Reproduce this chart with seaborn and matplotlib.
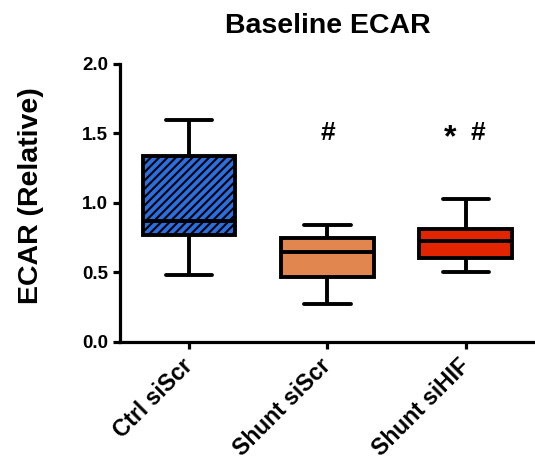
import matplotlib
matplotlib.use("Agg")
import matplotlib.pyplot as plt
import seaborn as sns
import pandas as pd

# ---- data ----
groups = ["Ctrl siScr", "Shunt siScr", "Shunt siHIF"]
# five-number summaries: whisker low, Q1, median, Q3, whisker high
ctrl_siscr = [0.48, 0.77, 0.87, 1.34, 1.60]
shunt_siscr = [0.27, 0.47, 0.645, 0.745, 0.84]
shunt_sihif = [0.50, 0.60, 0.725, 0.815, 1.03]
colors = ["#2a6ee0", "#e0864e", "#e32400"]
yticks = [0.0, 0.5, 1.0, 1.5, 2.0]

df = pd.DataFrame({
    "group": [groups[0]] * 5 + [groups[1]] * 5 + [groups[2]] * 5,
    "value": ctrl_siscr + shunt_siscr + shunt_sihif,
})

sns.set_style("ticks")
plt.rcParams["font.family"] = ["Liberation Sans", "DejaVu Sans"]
plt.rcParams["font.weight"] = "bold"
plt.rcParams["text.color"] = "black"
plt.rcParams["axes.labelcolor"] = "black"
plt.rcParams["xtick.color"] = "black"
plt.rcParams["ytick.color"] = "black"
plt.rcParams["hatch.linewidth"] = 1.5
plt.rcParams["hatch.color"] = "black"

fig = plt.figure(figsize=(5.35, 4.67), dpi=100)
ax = fig.add_axes([0.224, 0.268, 0.776, 0.595])

sns.boxplot(data=df, x="group", y="value", hue="group", order=groups,
            hue_order=groups, palette=colors, saturation=1, width=0.67,
            linewidth=2.8, linecolor="black", whis=(0, 100), fliersize=0,
            legend=False, ax=ax)

# hatch the first box
ax.patches[0].set_hatch("////")

ax.set_xlim(-0.5, 2.5)
ax.set_ylim(0, 2.0)
ax.set_yticks(yticks)
ax.set_yticklabels([f"{t:.1f}" for t in yticks], fontsize=13.5,
                   fontweight="bold", color="black")
ax.set_xticks(range(len(groups)))
ax.set_xticklabels(groups, rotation=45, ha="right", va="center",
                   rotation_mode="anchor", fontsize=16.5, fontweight="bold",
                   color="black")
ax.tick_params(axis="both", width=2.3, length=5, color="black")
ax.tick_params(axis="x", pad=10)

for s in ["top", "right"]:
    ax.spines[s].set_visible(False)
for s in ["left", "bottom"]:
    ax.spines[s].set_linewidth(2.3)
    ax.spines[s].set_color("black")

ax.set_xlabel("")
ax.set_ylabel("ECAR (Relative)", fontsize=20.5, fontweight="bold", color="black")
ax.yaxis.set_label_coords(-0.182, 0.525)
ax.set_title("Baseline ECAR", fontsize=20.5, fontweight="bold", pad=22,
             color="black")

ax.text(1, 1.50, "#", ha="center", va="center", fontsize=19, fontweight="bold")
ax.text(1.885, 1.465, "*", ha="center", va="center", fontsize=23, fontweight="bold")
ax.text(2.09, 1.50, "#", ha="center", va="center", fontsize=19, fontweight="bold")

fig.savefig("out.png", dpi=100)
